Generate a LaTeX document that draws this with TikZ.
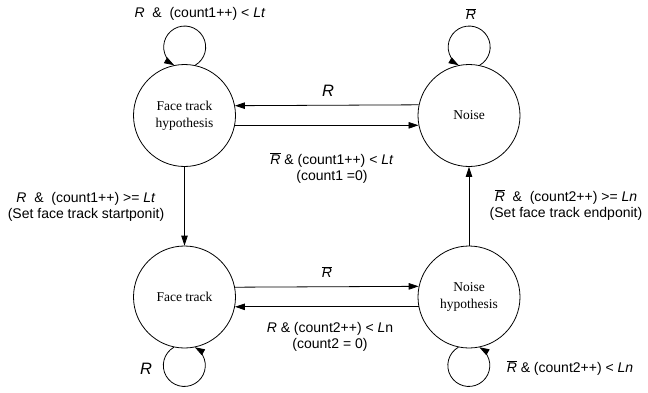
\documentclass[tikz,border=0pt]{standalone}
\usepackage{fontspec}
\setmainfont{Liberation Sans}
\newfontfamily\statefont{Liberation Serif}
\usetikzlibrary{arrows.meta}
\tikzset{
  state/.style={circle, draw, line width=0.8pt, minimum size=102pt, inner sep=0pt,
    font=\statefont\fontsize{13.5}{17}\selectfont, align=center},
  arr/.style={line width=0.8pt, -{Triangle[length=10pt,width=6.5pt]}},
  lbl/.style={font=\fontsize{14}{16.5}\selectfont, align=center, inner sep=0pt},
  biglbl/.style={font=\fontsize{16.5}{18}\selectfont\itshape, inner sep=0pt},
}
\newcommand{\Rbar}{$\overline{\hbox{\itshape R}}$}
\newcommand{\Ri}{\textit{R}}
\begin{document}
\begin{tikzpicture}[x=1pt,y=1pt]
  \useasboundingbox (0,0) rectangle (648,392);

  % states
  \node[state] (fth)   at (184.5,276.5) {Face track\\hypothesis};
  \node[state] (noise) at (469,276.5)   {Noise};
  \node[state] (ft)    at (184.5,95)    {Face track};
  \node[state] (nh)    at (469,95)      {Noise\\hypothesis};

  % transitions between states
  \draw[arr] (noise.168.7) -- (fth.11.3);
  \draw[arr] (fth.-11.3) -- (noise.191.3);
  \draw[arr] (ft.11.3) -- (nh.168.7);
  \draw[arr] (nh.191.3) -- (ft.-11.3);
  \draw[arr] (fth.south) -- (ft.north);
  \draw[arr] (nh.north) -- (noise.south);

  % self loops
  \draw[arr] (fth.78) arc[start angle=-60, end angle=240, radius=21pt];
  \draw[arr] (noise.78) arc[start angle=-60, end angle=240, radius=21pt];
  \draw[arr] (ft.258) arc[start angle=120, end angle=420, radius=21pt];
  \draw[arr] (nh.258) arc[start angle=120, end angle=420, radius=21pt];

  % transition labels
  \node[lbl] (l1) at (200,378) {\Ri\ \ \&\ \ (count1++) < \textit{Lt}};
  \node[biglbl] (l2) at (328,301) {R};
  \node[lbl] (l3) at (332,224) {\Rbar\ \& (count1++) < \textit{Lt}\\(count1 =0)};
  \node[lbl] (l4) at (471,378) {\Rbar};
  \node[lbl] (l5) at (86,185) {\Ri\ \ \&\ \ (count1++) >= \textit{Lt}\\(Set face track startponit)};
  \node[lbl] (l6) at (566,187) {\Rbar\ \ \&\ \ (count2++) >= \textit{Ln}\\(Set face track endponit)};
  \node[lbl] (l7) at (327,120) {\Rbar};
  \node[lbl] (l8) at (330,55) {\Ri\ \& (count2++) < \textit{L}n\\(count2 = 0)};
  \node[biglbl] (l9) at (146,23) {R};
  \node[lbl] (l10) at (570,24) {\Rbar\ \& (count2++) < \textit{Ln}};
\end{tikzpicture}
\end{document}
